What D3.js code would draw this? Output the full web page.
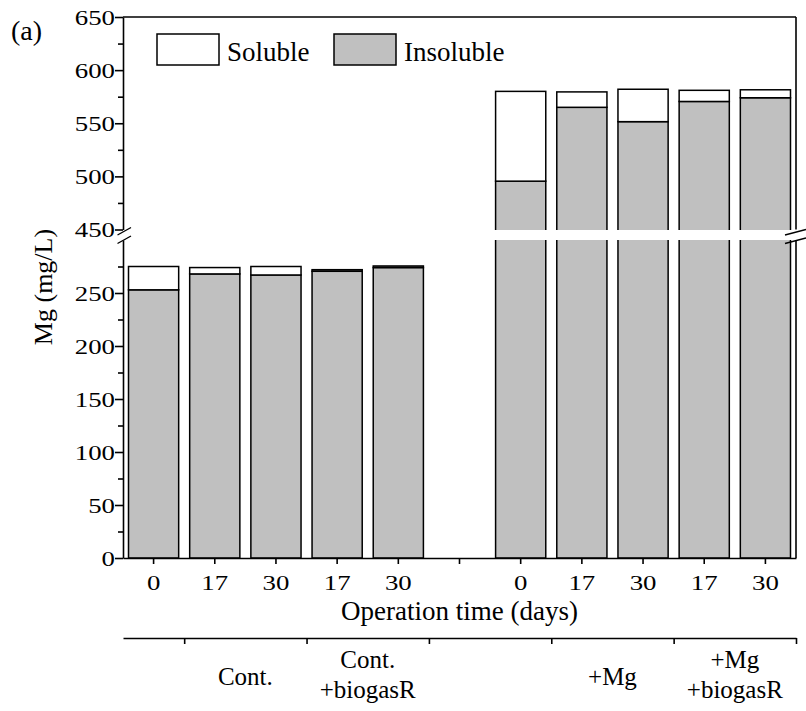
<!DOCTYPE html>
<html>
<head>
<meta charset="utf-8">
<script src="https://cdnjs.cloudflare.com/ajax/libs/d3/7.8.5/d3.min.js"></script>
<style>
body { margin: 0; background: #fff; }
text { font-family: "Liberation Serif", "Times New Roman", serif; fill: #000; }
</style>
</head>
<body>
<script>
var width = 806,
    height = 711;

// bars left to right, slot 5 is the empty gap between the two sets
const days = ["0", "17", "30", "17", "30", "", "0", "17", "30", "17", "30"];
const insoluble = [253, 268, 267, 270.5, 274, 0, 495.5, 565, 551.5, 570.5, 574];
const soluble = [22, 6, 8, 1.5, 1.5, 0, 84.5, 14.5, 30.5, 10.5, 7.5];
const groups = [["Cont."], ["Cont.", "+biogasR"], [], ["+Mg"], ["+Mg", "+biogasR"]];
const lowTicks = [0, 50, 100, 150, 200, 250];
const lowMinor = [25, 75, 125, 175, 225, 275];
const highTicks = [450, 500, 550, 600, 650];
const highMinor = [475, 525, 575, 625];
const series = ["Soluble", "Insoluble"];

const m = { left: 123, right: 796, top: 17, bottom: 558 };
const SX = 1.22; // tick digits look wider than tall in the figure
const gray = "#c0c0c0";

const svg = d3.select("body").append("svg")
    .attr("width", width)
    .attr("height", height);

const x = d3.scaleBand()
    .domain(d3.range(days.length))
    .range([m.left, m.right])
    .paddingInner(0.18)
    .paddingOuter(0.09);

const yLow = d3.scaleLinear().domain([0, 300]).range([m.bottom, 240]);
const yHigh = d3.scaleLinear().domain([450, 650]).range([229.5, m.top]);

const rows = days.map((d, i) => ({ i: i, insoluble: insoluble[i], soluble: soluble[i] }))
    .filter(d => d.insoluble > 0);
const stacked = d3.stack().keys(["insoluble", "soluble"])(rows);
const fills = { insoluble: gray, soluble: "#fff" };

const defs = svg.append("defs");
defs.append("clipPath").attr("id", "clipHigh")
    .append("rect").attr("x", 0).attr("y", 0).attr("width", width).attr("height", 230);
defs.append("clipPath").attr("id", "clipLow")
    .append("rect").attr("x", 0).attr("y", 240).attr("width", width).attr("height", height - 240);

[[yHigh, "clipHigh"], [yLow, "clipLow"]].forEach(([y, clip]) => {
    const g = svg.append("g").attr("clip-path", "url(#" + clip + ")");
    g.selectAll("g")
        .data(stacked)
        .enter()
        .append("g")
        .attr("fill", d => fills[d.key])
        .selectAll("rect")
        .data(d => d)
        .enter()
        .append("rect")
            .attr("x", d => x(d.data.i))
            .attr("width", x.bandwidth())
            .attr("y", d => y(d[1]))
            .attr("height", d => y(d[0]) - y(d[1]))
            .attr("stroke", "#000")
            .attr("stroke-width", 1.5);
});

function styleAxis(g) {
    g.selectAll("path, line").attr("stroke", "#000").attr("stroke-width", 1.6);
}

// left axis, two pieces
[[yHigh, highTicks, highMinor], [yLow, lowTicks, lowMinor]].forEach(([y, major, minor]) => {
    const ax = svg.append("g")
        .attr("transform", "translate(" + m.left + ",0)")
        .call(d3.axisLeft(y).tickValues(major).tickSize(8).tickSizeOuter(0));
    ax.selectAll("text")
        .attr("font-size", 22)
        .attr("font-family", null)
        .attr("x", -8 / SX)
        .attr("dy", "0.34em")
        .attr("transform", "scale(" + SX + ",1)");
    styleAxis(ax);
    const mn = svg.append("g")
        .attr("transform", "translate(" + m.left + ",0)")
        .call(d3.axisLeft(y).tickValues(minor).tickSize(5).tickFormat(""));
    mn.select(".domain").remove();
    styleAxis(mn);
});

// bottom axis
const xAx = svg.append("g")
    .attr("transform", "translate(0," + m.bottom + ")")
    .call(d3.axisBottom(x).tickFormat(i => days[i]).tickSize(6).tickSizeOuter(0));
xAx.selectAll("text")
    .attr("font-size", 22)
    .attr("font-family", null)
    .attr("y", 32)
    .attr("dy", 0)
    .attr("transform", "scale(" + SX + ",1)");
styleAxis(xAx);

// frame top and right
svg.append("line").attr("x1", m.left).attr("x2", m.right).attr("y1", m.top).attr("y2", m.top)
    .attr("stroke", "#000").attr("stroke-width", 1.6);
svg.append("line").attr("x1", m.right).attr("x2", m.right).attr("y1", m.top).attr("y2", yHigh(450))
    .attr("stroke", "#000").attr("stroke-width", 1.6);
svg.append("line").attr("x1", m.right).attr("x2", m.right).attr("y1", yLow(300)).attr("y2", m.bottom)
    .attr("stroke", "#000").attr("stroke-width", 1.6);

// break marks
const breaks = [
    [117.5, 235, 131, 227.5], [117.5, 243.5, 131, 236],
    [785, 235, 806, 229.5], [785, 243.5, 806, 238]
];
svg.selectAll(".brk").data(breaks).enter().append("line")
    .attr("x1", d => d[0]).attr("y1", d => d[1])
    .attr("x2", d => d[2]).attr("y2", d => d[3])
    .attr("stroke", "#000").attr("stroke-width", 1.4);

// axis titles
svg.append("text")
    .attr("x", (m.left + m.right) / 2)
    .attr("y", 620)
    .attr("text-anchor", "middle")
    .attr("font-size", 27)
    .text("Operation time (days)");

svg.append("text")
    .attr("transform", "translate(52,287) rotate(-90)")
    .attr("text-anchor", "middle")
    .attr("font-size", 26)
    .text("Mg (mg/L)");

svg.append("text")
    .attr("x", 11)
    .attr("y", 40)
    .attr("font-size", 28)
    .text("(a)");

// treatment axis under the plot
const xs = d3.scaleLinear().domain([0, 11]).range([m.left, m.right]);
const gAx = svg.append("g")
    .attr("transform", "translate(0,638)")
    .call(d3.axisBottom(xs).tickValues([1, 3, 5, 7, 9, 11]).tickFormat("").tickSize(6).tickSizeOuter(0));
styleAxis(gAx);

groups.forEach((lines, i) => {
    const base = lines.length > 1 ? 668 : 685;
    lines.forEach((t, k) => {
        svg.append("text")
            .attr("x", xs(2 * i + 2))
            .attr("y", base + 30 * k)
            .attr("text-anchor", "middle")
            .attr("font-size", 25)
            .text(t);
    });
});

// legend
const legend = svg.append("g");
const lx = [157, 334];
series.forEach((s, i) => {
    legend.append("rect")
        .attr("x", lx[i]).attr("y", 34)
        .attr("width", 62).attr("height", 31)
        .attr("fill", i === 0 ? "#fff" : gray)
        .attr("stroke", "#000").attr("stroke-width", 1.5);
    legend.append("text")
        .attr("x", lx[i] + 70).attr("y", 60.5)
        .attr("font-size", 27)
        .text(s);
});
</script>
</body>
</html>
